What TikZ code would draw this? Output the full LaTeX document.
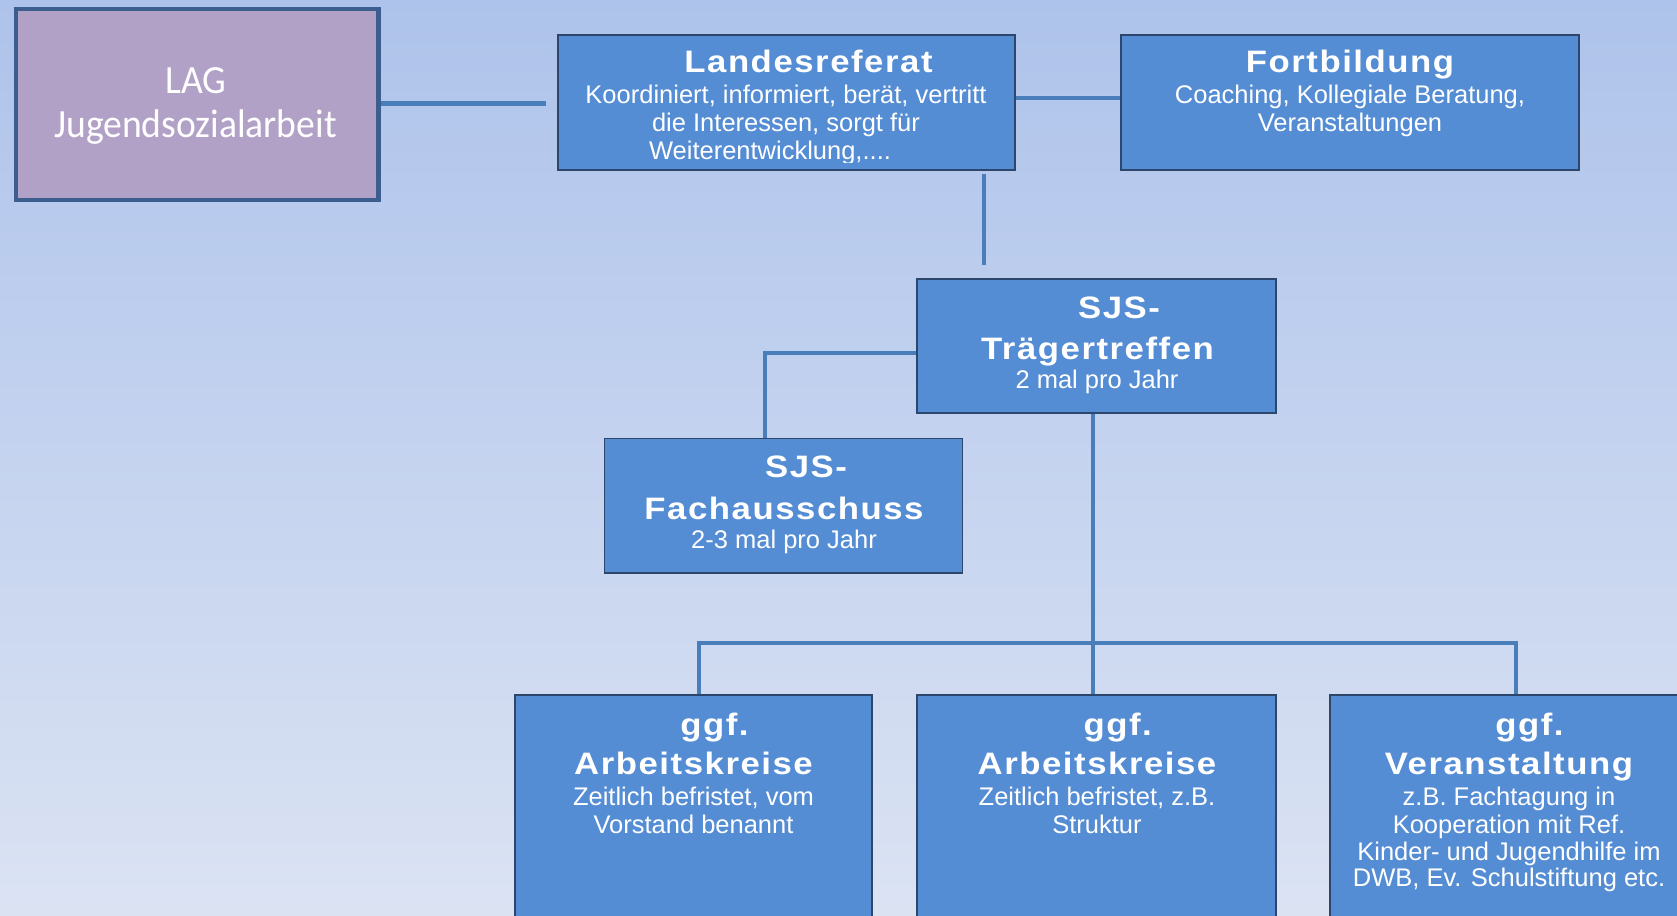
\documentclass[tikz,border=0pt]{standalone}
\usepackage{fontspec}
\setmainfont{Liberation Sans}
\newfontfamily\titlefont{Liberation Sans}[LetterSpace=5,FakeStretch=1.12]
\newfontfamily\lagfont{Carlito}[FakeStretch=0.94]
\definecolor{bgtop}{RGB}{174,195,235}
\definecolor{bgbot}{RGB}{219,227,243}
\definecolor{boxfill}{RGB}{85,141,213}
\definecolor{boxline}{RGB}{44,70,108}
\definecolor{lagfill}{RGB}{178,161,199}
\definecolor{lagline}{RGB}{59,94,143}
\definecolor{connc}{RGB}{74,126,187}
\begin{document}
\begin{tikzpicture}[x=1pt,y=-1pt,
  bluebox/.style={draw=boxline, line width=1.5pt, fill=boxfill, inner sep=0pt},
  lagbox/.style={draw=lagline, line width=4.5pt, fill=lagfill, inner sep=0pt},
  conn/.style={draw=connc, line width=4pt},
  ttl/.style={anchor=base, inner sep=0pt, text=white, font=\titlefont\bfseries\fontsize{31}{36}\selectfont},
  sub/.style={anchor=base, inner sep=0pt, text=white, font=\fontsize{25.5}{30}\selectfont},
  lagtxt/.style={anchor=base, inner sep=0pt, text=white, font=\lagfont\fontsize{40}{46}\selectfont}]
\useasboundingbox (0,0) rectangle (1677,915);
\shade[top color=bgtop, bottom color=bgbot] (0,0) rectangle (1677,915);

% boxes
\node[lagbox, minimum width=362.5pt, minimum height=191pt] (lag) at (197.2,104.5) {};
\node[bluebox, minimum width=457pt, minimum height=135pt] (lr) at (786.5,102.5) {};
\node[bluebox, minimum width=458pt, minimum height=135pt] (fb) at (1350,102.5) {};
\node[bluebox, minimum width=359pt, minimum height=134pt] (tt) at (1096.5,346) {};
\node[bluebox, minimum width=358pt, minimum height=134.5pt] (fa) at (783.5,505.75) {};
\node[bluebox, minimum width=357pt, minimum height=240pt] (ak1) at (693.5,815) {};
\node[bluebox, minimum width=359pt, minimum height=240pt] (ak2) at (1096.5,815) {};
\node[bluebox, minimum width=358pt, minimum height=240pt] (va) at (1509,815) {};

% connectors
\coordinate (lagend) at (546,104);
\draw[conn, line width=5pt] (lag.east |- lagend) -- (lagend);
\draw[conn] ([yshift=4.5pt]lr.east) -- ([yshift=4.5pt]fb.west);
\coordinate (lrdownA) at (984,174);
\coordinate (lrdownB) at (984,265);
\draw[conn] (lrdownA) -- (lrdownB);
\draw[conn] ([yshift=-6.7pt]tt.west) -| ([xshift=-18.5pt]fa.north);
\draw[conn] ([xshift=-3.5pt]tt.south) -- ([xshift=-3.5pt]ak2.north);
\draw[conn] ([xshift=5.5pt]ak1.north) -- ++(0,-51) -| ([xshift=7pt]va.north);

% LAG text
\node[lagtxt] (lag1) at (196,94) {LAG};
\node[lagtxt] (lag2) at (195.5,138) {Jugendsozialarbeit};

% Landesreferat
\node[ttl] (lrt) at (808.5,73) {Landesreferat};
\begin{scope}
\clip (558,35) rectangle (1015,162.5);
\node[sub] (lr1) at (786,104) {Koordiniert, informiert, berät, vertritt};
\node[sub] (lr2) at (786,131.5) {die Interessen, sorgt für};
\node[sub] (lr3) at (770,159) {Weiterentwicklung,....};
\end{scope}

% Fortbildung
\node[ttl] (fbt) at (1350,73) {Fortbildung};
\node[sub] (fb1) at (1350,104) {Coaching, Kollegiale Beratung,};
\node[sub] (fb2) at (1350,131.5) {Veranstaltungen};

% Traegertreffen
\node[ttl] (tt1) at (1119,318) {SJS-};
\node[ttl] (tt2) at (1097.5,359.3) {Trägertreffen};
\node[sub] (tt3) at (1097,388.3) {2 mal pro Jahr};

% Fachausschuss
\node[ttl] (fa1) at (806,477.5) {SJS-};
\node[ttl] (fa2) at (784,519) {Fachausschuss};
\node[sub] (fa3) at (784,548) {2-3 mal pro Jahr};

% Arbeitskreise 1
\node[ttl] (a11) at (714.5,735) {ggf.};
\node[ttl] (a12) at (693.5,774.3) {Arbeitskreise};
\node[sub] (a13) at (693.5,805.7) {Zeitlich befristet, vom};
\node[sub] (a14) at (693.5,833) {Vorstand benannt};

% Arbeitskreise 2
\node[ttl] (a21) at (1117.7,735) {ggf.};
\node[ttl] (a22) at (1097,774.3) {Arbeitskreise};
\node[sub] (a23) at (1097,805.7) {Zeitlich befristet, z.B.};
\node[sub] (a24) at (1097,833) {Struktur};

% Veranstaltung
\node[ttl] (v1) at (1529.5,735) {ggf.};
\node[ttl] (v2) at (1509,774.3) {Veranstaltung};
\node[sub] (v3) at (1509,805.7) {z.B. Fachtagung in};
\node[sub] (v4) at (1509,833.3) {Kooperation mit Ref.};
\node[sub] (v5) at (1509,860) {Kinder- und Jugendhilfe im};
\node[sub] (v6) at (1509,886.7) {DWB, Ev. Schulstiftung etc.};
\end{tikzpicture}
\end{document}
